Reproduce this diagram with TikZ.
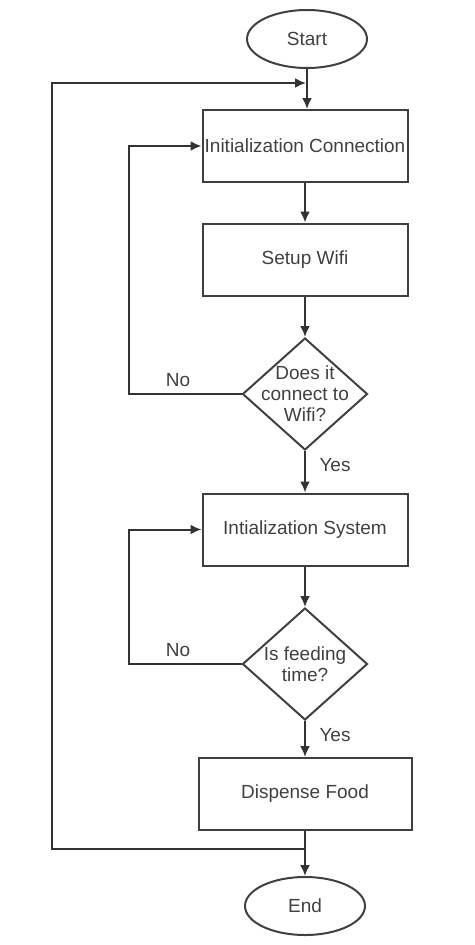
\documentclass[tikz,border=0pt]{standalone}
\usepackage{fontspec}
\setmainfont{Liberation Sans}
\usetikzlibrary{shapes.geometric,arrows.meta}
\tikzset{>={Latex[length=11pt,width=10pt]}}
\tikzset{
  flowbox/.style={draw=black!75, line width=2pt, rectangle, minimum width=205pt, minimum height=72pt, inner sep=0pt},
  terminal/.style={draw=black!75, line width=2pt, ellipse, minimum width=120pt, minimum height=58pt, inner sep=0pt},
  decision/.style={draw=black!75, line width=2pt, diamond, minimum width=125pt, minimum height=112pt, inner sep=0pt},
  flowtext/.style={align=center},
  link/.style={draw=black!80, line width=2pt, ->},
}

\begin{document}
\begin{tikzpicture}[x=1pt,y=-1pt,font=\fontsize{19}{21}\selectfont,text=black!75]
            \draw[draw=none,use as bounding box] (0,0) rectangle (474,945);
            % main column
            \node[terminal] (start) at (307,39) {Start};
            \node[flowbox] (conn) at (305,146) {Initialization Connection};
            \node[flowbox] (wifi) at (305,259.5) {Setup Wifi};
            \node[decision] (q1) at (305,394) {};
            \node[flowtext] (q1text) at (q1) {Does it\\connect to\\Wifi?};
            \node[flowbox] (sys) at (305,529.5) {Intialization System};
            \node[decision] (q2) at (305,664) {};
            \node[flowtext] (q2text) at (q2) {Is feeding\\time?};
            \node[flowbox, minimum width=213pt] (food) at (305,794) {Dispense Food};
            \node[terminal] (end) at (305,906) {End};
            % branch labels
            \node (no1) at (178,380) {No};
            \node (yes1) at (335,465) {Yes};
            \node (no2) at (178,650) {No};
            \node (yes2) at (335,735) {Yes};
            \coordinate (jend) at (305,849);
            \coordinate (jstart) at (306,83);
            % connectors
            \draw[link] (start) -- (start |- conn.north);
            \draw[link] (conn) -- (wifi);
            \draw[link] (wifi) -- (q1);
            \draw[link] (q1) -- (sys);
            \draw[link] (sys) -- (q2);
            \draw[link] (q2) -- (food);
            \draw[link] (food) -- (end);
            \draw[link] (q1.west) -- ++(-112.5,0) |- (conn.west);
            \draw[link] (q2.west) -- ++(-112.5,0) |- (sys.west);
            \draw[link] (jend) -- ++(-253,0) |- (jstart);
        \end{tikzpicture}
\end{document}
